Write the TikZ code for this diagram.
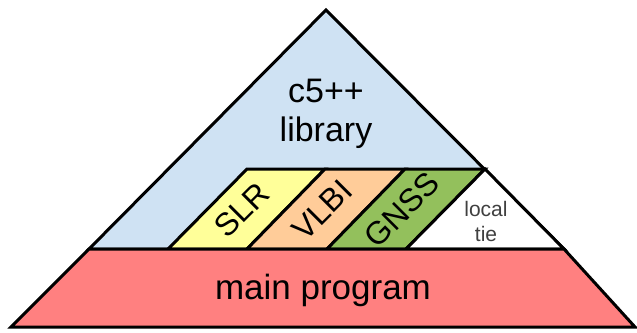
\documentclass[tikz,border=0pt]{standalone}
\usepackage{fontspec}
\setmainfont{Liberation Sans}
\definecolor{libblue}{RGB}{207,226,243}
\definecolor{slryel}{RGB}{255,255,153}
\definecolor{vlbior}{RGB}{255,204,153}
\definecolor{gnssgr}{RGB}{147,192,92}
\definecolor{mainpk}{RGB}{255,128,128}
\begin{document}
\begin{tikzpicture}[x=1pt,y=-1pt,
  part/.style={draw=black,line width=3pt,line join=miter},
  lbl/.style={text=black,inner sep=0pt,align=center}]
\useasboundingbox (0,0) rectangle (637,332);
% library triangle
\path[part,fill=libblue] (326,10) -- (564,249) -- (89,249) -- cycle;
% technique bands
\path[part,fill=slryel] (168,249) -- (247,169) -- (325,169) -- (247,249) -- cycle;
\path[part,fill=vlbior] (247,249) -- (325,169) -- (405,169) -- (327,249) -- cycle;
\path[part,fill=gnssgr] (327,249) -- (405,169) -- (485,169) -- (406,249) -- cycle;
\path[part,fill=white] (406,249) -- (485,169) -- (564,249) -- cycle;
% main program
\path[part,fill=mainpk] (89,249) -- (564,249) -- (635,327) -- (11,327) -- cycle;
% labels
\node[lbl,font=\fontsize{34}{39}\selectfont] (lib) at (326,114) {c5++\\library};
\node[lbl,font=\fontsize{35}{40}\selectfont] (main) at (323,290) {main program};
\node[lbl,font=\fontsize{32}{36}\selectfont,rotate=45] (slr) at (242,210) {SLR};
\node[lbl,font=\fontsize{32}{36}\selectfont,rotate=45] (vlbi) at (322,210) {VLBI};
\node[lbl,font=\fontsize{32}{36}\selectfont,rotate=45] (gnss) at (402,210) {GNSS};
\node[lbl,font=\fontsize{21}{25}\selectfont,text=black!75] (tie) at (486,221) {local\\tie};
\end{tikzpicture}
\end{document}
